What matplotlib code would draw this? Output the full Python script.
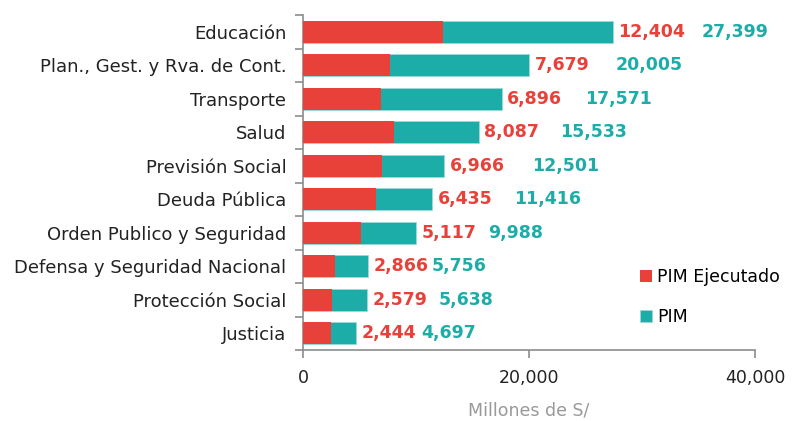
import matplotlib.pyplot as plt
import numpy as np

# datos (millones de S/)
categorias = ["Educación", "Plan., Gest. y Rva. de Cont.", "Transporte", "Salud",
              "Previsión Social", "Deuda Pública", "Orden Publico y Seguridad",
              "Defensa y Seguridad Nacional", "Protección Social", "Justicia"]
pim_ejecutado = [12404, 7679, 6896, 8087, 6966, 6435, 5117, 2866, 2579, 2444]
pim = [27399, 20005, 17571, 15533, 12501, 11416, 9988, 5756, 5638, 4697]

# separación (pt) entre etiqueta roja y etiqueta verde
sep = [60, 58, 56, 55, 59, 55, 48, 42, 48, 43]

rojo = "#E8413A"
verde = "#1CADA8"
gris = "#8C8C8C"

plt.rcParams['font.family'] = ['DejaVu Sans']

fig = plt.figure(figsize=(8.06, 4.21), dpi=100)
ax = fig.add_axes([0.3759, 0.1686, 0.5608, 0.7957])

y = np.arange(len(categorias))
ax.barh(y, pim, height=0.66, color=verde, edgecolor="#9BDAD7", linewidth=0.6, label="PIM", zorder=2)
ax.barh(y, pim_ejecutado, height=0.66, color=rojo, label="PIM Ejecutado", zorder=3)

for i in range(len(categorias)):
    ax.annotate(f"{pim_ejecutado[i]:,}", (pim[i], y[i]), xytext=(4, 0), textcoords="offset points",
                va="center", ha="left", color=rojo, fontsize=12.5, fontweight="bold")
    ax.annotate(f"{pim[i]:,}", (pim[i], y[i]), xytext=(4 + sep[i], 0), textcoords="offset points",
                va="center", ha="left", color=verde, fontsize=12.5, fontweight="bold")

ax.set_xlim(0, 40000)
ax.set_ylim(len(categorias) - 0.5, -0.5)
ax.set_xticks([0, 20000, 40000])
ax.set_xticklabels(["0", "20,000", "40,000"])
ax.set_yticks(y)
ax.set_yticklabels(categorias)
ax.set_yticks(np.arange(-0.5, len(categorias), 1), minor=True)
ax.tick_params(axis="y", which="major", length=0, pad=12, labelsize=13, labelcolor="#222222")
ax.tick_params(axis="y", which="minor", length=6, color=gris, width=1.2)
ax.tick_params(axis="x", length=6, color=gris, width=1.2, labelsize=12.5, labelcolor="#222222", pad=8)

for s in ["top", "right"]:
    ax.spines[s].set_visible(False)
for s in ["left", "bottom"]:
    ax.spines[s].set_color(gris)
    ax.spines[s].set_linewidth(1.2)

ax.set_xlabel("Millones de S/", color="#999999", fontsize=12.5, labelpad=10)

h, l = ax.get_legend_handles_labels()
ax.legend(h[::-1], l[::-1], loc="lower left", bbox_to_anchor=(0.71, 0.025), frameon=False,
          fontsize=12.5, handlelength=0.7, handleheight=0.7, handletextpad=0.3, labelspacing=1.25)

fig.savefig("out.png", dpi=100)
